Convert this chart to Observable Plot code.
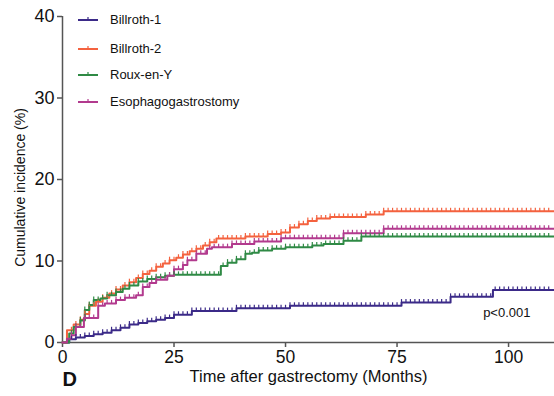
<!DOCTYPE html>
<html><head><meta charset="utf-8">
<script src="https://cdn.jsdelivr.net/npm/d3@7"></script>
<script src="https://cdn.jsdelivr.net/npm/@observablehq/plot@0.6"></script>
<style>
body{margin:0;background:#fff;font-family:"Liberation Sans",Arial,sans-serif;}
#wrap{position:relative;width:554px;height:396px;overflow:hidden;}
.lg{position:absolute;left:78px;height:14px;display:flex;align-items:center;font-size:13px;color:#111;white-space:nowrap;}
.lg svg{margin-right:12px;}
</style></head><body><div id="wrap"></div>
<script>
const seriesNames = ["Billroth-1", "Billroth-2", "Roux-en-Y", "Esophagogastrostomy"];
const seriesColors = ["#3b2a88", "#f4623f", "#2f8a45", "#b23a8e"];

const b1Times  = [0, 1.5, 3, 5, 7, 9, 11, 13, 15, 17, 19, 21, 23, 25, 29, 39, 51, 76, 87, 96.5, 110.3];
const b1Values = [0, 0.4, 0.6, 0.8, 1.0, 1.2, 1.5, 1.8, 2.2, 2.4, 2.6, 2.8, 3.0, 3.4, 3.85, 4.2, 4.5, 4.9, 5.6, 6.45, 6.45];

const b2Times  = [0, 1, 2.5, 4, 5, 6, 7.5, 9, 10.5, 12, 13.5, 15, 16.5, 18, 19.5, 21, 22.5, 24, 25.5, 27, 28.5, 30, 31.5, 33, 34.5, 41, 46, 49, 51, 53, 55, 57, 60, 68, 72, 110.3];
const b2Values = [0, 1.5, 2.2, 2.8, 3.5, 4.5, 5.0, 5.5, 6.0, 6.5, 7.0, 7.4, 7.9, 8.4, 8.8, 9.3, 9.7, 10.1, 10.4, 10.8, 11.2, 11.5, 11.9, 12.3, 12.75, 13.0, 13.3, 13.5, 14.1, 14.5, 14.9, 15.2, 15.4, 15.7, 16.1, 16.1];

const ryTimes  = [0, 1.5, 2.5, 4, 5, 6, 7, 8.5, 10, 12, 13.5, 15, 17, 19, 21, 23, 25, 35.5, 37, 39, 41, 42.5, 44, 47, 50, 56, 58.5, 63, 67, 110.3];
const ryValues = [0, 1.1, 1.9, 2.7, 4.0, 4.6, 5.2, 5.4, 5.8, 6.2, 6.6, 7.0, 7.5, 7.8, 8.0, 8.2, 8.3, 9.4, 9.8, 10.2, 10.9, 11.0, 11.3, 11.5, 11.7, 11.9, 12.1, 12.5, 13.0, 13.0];

const egTimes  = [0, 1, 2, 3, 4.8, 8, 9.5, 12, 14, 16.5, 18, 19.5, 21, 23.5, 25, 27, 28, 30, 32.4, 33.5, 38, 43, 49, 63, 72, 110.3];
const egValues = [0, 0.45, 0.9, 1.9, 3.0, 4.5, 4.8, 5.2, 5.5, 5.8, 6.8, 7.3, 7.7, 8.2, 9.0, 9.5, 10.1, 10.9, 11.5, 11.7, 12.1, 12.4, 12.8, 13.4, 13.95, 13.95];

const censorMonths = [2, 3, 4, 5, 6, 7, 8, 9, 10, 11, 12, 13, 14, 15, 16, 17, 18, 19, 20, 21, 22, 23, 24, 25, 26, 27, 28, 29, 30, 31, 32, 33, 34, 35, 36, 37, 38, 39, 40, 41, 42, 43, 44, 45, 46, 47, 48, 49, 50, 51, 52, 53, 54, 55, 56, 57, 58, 59, 60, 61, 62, 63, 64, 65, 66, 67, 68, 69, 70, 71, 72, 73, 74, 75, 76, 77, 78, 79, 80, 81, 82, 83, 84, 85, 86, 87, 88, 89, 90, 91, 92, 93, 94, 95, 96, 97, 98, 99, 100, 101, 102, 103, 104, 105, 106, 107, 108, 109];

const xTicks = [0, 25, 50, 75, 100];
const yTicks = [0, 10, 20, 30, 40];
const xLabel = "Time after gastrectomy (Months)";
const yLabel = "Cumulative incidence (%)";
const panelLabel = "D";
const pValue = [{t: 94.3, v: 3.6, label: "p<0.001"}];

const seriesData = [[b1Times, b1Values], [b2Times, b2Values], [ryTimes, ryValues], [egTimes, egValues]];
const steps = [];
const censors = [];
seriesData.forEach(([ts, vs], i) => {
  ts.forEach((t, j) => steps.push({series: seriesNames[i], t, v: vs[j]}));
  censorMonths.forEach(c => {
    const j = d3.bisectRight(ts, c) - 1;
    censors.push({series: seriesNames[i], t: c, v: vs[j]});
  });
});

const tickSymbol = {draw(ctx) { ctx.moveTo(0, 0); ctx.lineTo(0, -3.5); }};
const font = "Liberation Sans, Arial, sans-serif";

const chart = Plot.plot({
  width: 554, height: 396,
  marginLeft: 62, marginRight: 0, marginTop: 16, marginBottom: 54,
  x: {domain: [0, 110.3]},
  y: {domain: [0, 40]},
  color: {domain: seriesNames, range: seriesColors},
  style: {fontFamily: font, background: "white", overflow: "visible", color: "#111"},
  marks: [
    Plot.axisX({ticks: xTicks, tickSize: 5, tickPadding: 3, fontSize: 17.5, stroke: "#555", strokeWidth: 1.5, label: null}),
    Plot.axisY({ticks: yTicks, tickSize: 5, tickPadding: 3, fontSize: 18, stroke: "#555", strokeWidth: 1.5, label: null}),
    Plot.ruleY([0], {stroke: "#555", strokeWidth: 1.5}),
    Plot.ruleX([0], {stroke: "#555", strokeWidth: 1.5}),
    Plot.line(steps, {x: "t", y: "v", z: "series", stroke: "series", curve: "step-after", strokeWidth: 2}),
    Plot.dot(censors, {x: "t", y: "v", stroke: "series", symbol: tickSymbol, strokeWidth: 1.2, r: 2}),
    Plot.text(pValue, {x: "t", y: "v", text: "label", textAnchor: "start", fontSize: 13, fill: "#111"}),
    Plot.text([xLabel], {frameAnchor: "bottom", dy: 39, fontSize: 16.5, fill: "#111"}),
    Plot.text([yLabel], {frameAnchor: "left", textAnchor: "middle", rotate: -90, dx: -42, dy: 8, fontSize: 14, fill: "#111"}),
    Plot.text([panelLabel], {frameAnchor: "bottom-left", textAnchor: "start", dx: 0, dy: 43, fontSize: 20, fontWeight: "bold", fill: "#111"})
  ]
});
const wrap = document.getElementById("wrap");
wrap.appendChild(chart);

const legendCenters = [19, 48, 74, 101];
seriesNames.forEach((name, i) => {
  const div = document.createElement("div");
  div.className = "lg";
  div.style.top = (legendCenters[i] - 7) + "px";
  div.innerHTML = `<svg width="20" height="8"><line x1="0" x2="20" y1="5" y2="5" stroke="${seriesColors[i]}" stroke-width="2"/><line x1="10" x2="10" y1="5" y2="2" stroke="${seriesColors[i]}" stroke-width="1.2"/></svg><span>${name}</span>`;
  wrap.appendChild(div);
});
</script>
</body></html>
